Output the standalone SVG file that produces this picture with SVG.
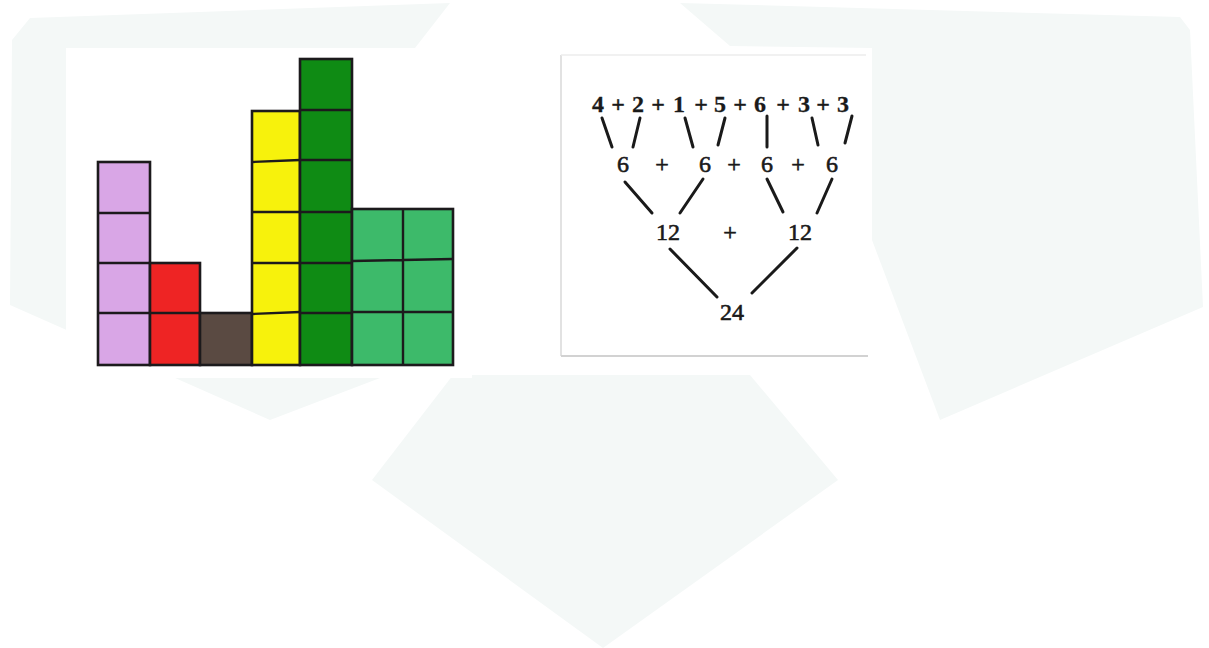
<svg xmlns="http://www.w3.org/2000/svg" width="1209" height="648" viewBox="0 0 1209 648">
  <style>
    .bg { fill: #f4f8f7; }
    .cell { stroke: #1c1a1c; stroke-width: 2.6; }
    .grid { stroke: #1c1a1c; stroke-width: 2.4; fill: none; }
    .num { font-family: "Liberation Serif", "Times New Roman", serif; font-size: 24px; fill: #1a1a1a; stroke: #1a1a1a; stroke-width: 0.6; text-anchor: middle; }
    .top { font-weight: bold; stroke-width: 0.3; }
    .conn line { stroke: #1a1a1a; stroke-width: 3; stroke-linecap: round; }
  </style>
  <rect width="1209" height="648" fill="#ffffff"/>
  <!-- faint background watermark shapes -->
  <g id="watermark">
    <path class="bg" d="M30,18 L450,3 L415,48 L470,48 L470,378 L380,378 L270,420 L10,305 L12,40 Z"/>
    <path class="bg" d="M680,3 L1180,17 L1190,30 L1203,307 L940,420 L872,240 L872,48 L730,46 Z"/>
    <path class="bg" d="M453,375 L750,375 L838,480 L603,648 L372,480 Z"/>
  </g>
  <!-- left picture panel -->
  <g id="blocks-panel">
    <rect x="66" y="48" width="406" height="330" fill="#ffffff"/>
    <g id="col-purple">
      <rect class="cell" x="98" y="162" width="52" height="203" fill="#d9a6e6"/>
      <path class="grid" d="M98,213 H150 M98,263 H150 M98,313 H150"/>
    </g>
    <g id="col-red">
      <rect class="cell" x="150" y="263" width="50" height="102" fill="#ee2424"/>
      <path class="grid" d="M150,313 H200"/>
    </g>
    <g id="col-brown">
      <rect class="cell" x="200" y="313" width="52" height="52" fill="#5a4a42"/>
    </g>
    <g id="col-yellow">
      <rect class="cell" x="252" y="111" width="48" height="254" fill="#f7f20c"/>
      <path class="grid" d="M252,162 L300,160 M252,212 H300 M252,263 H300 M252,314 L300,312"/>
    </g>
    <g id="col-darkgreen">
      <rect class="cell" x="300" y="59" width="52" height="306" fill="#0f8b14"/>
      <path class="grid" d="M300,110 H352 M300,160 H352 M300,212 H352 M300,263 H352 M300,313 H352"/>
    </g>
    <g id="col-green">
      <rect class="cell" x="352" y="209" width="101" height="156" fill="#3dba6a"/>
      <path class="grid" d="M352,261 L453,259 M352,312 H453 M403,209 V365"/>
    </g>
  </g>
  <!-- right picture panel -->
  <g id="tree-panel">
    <rect x="555" y="48" width="317" height="314" fill="#ffffff"/>
    <path d="M561,55 V356" stroke="#e2e2e2" stroke-width="2" fill="none"/>
    <path d="M561,55 H866" stroke="#ececec" stroke-width="1.5" fill="none"/>
    <path d="M561,356 H868" stroke="#d2d2d2" stroke-width="2" fill="none"/>
  </g>
  <g id="connectors" class="conn">
    <line x1="602" y1="118" x2="612" y2="147"/>
    <line x1="640" y1="118" x2="633" y2="147"/>
    <line x1="685" y1="118" x2="693" y2="147"/>
    <line x1="725" y1="118" x2="718" y2="145"/>
    <line x1="767" y1="116" x2="767" y2="147"/>
    <line x1="812" y1="118" x2="818" y2="145"/>
    <line x1="852" y1="116" x2="845" y2="143"/>
    <line x1="625" y1="182" x2="652" y2="213"/>
    <line x1="703" y1="179" x2="680" y2="213"/>
    <line x1="767" y1="179" x2="783" y2="212"/>
    <line x1="832" y1="179" x2="817" y2="213"/>
    <line x1="670" y1="249" x2="717" y2="297"/>
    <line x1="797" y1="248" x2="752" y2="293"/>
  </g>
  <g id="row1" class="num top">
    <text x="598" y="112">4</text>
    <text x="618" y="112">+</text>
    <text x="638" y="112">2</text>
    <text x="658" y="112">+</text>
    <text x="679" y="112">1</text>
    <text x="701" y="112">+</text>
    <text x="720" y="112">5</text>
    <text x="740" y="112">+</text>
    <text x="760" y="112">6</text>
    <text x="783" y="112">+</text>
    <text x="804" y="112">3</text>
    <text x="823" y="112">+</text>
    <text x="843" y="112">3</text>
  </g>
  <g id="row2" class="num">
    <g id="n2a"><text x="623" y="172">6</text></g>
    <text x="662" y="172">+</text>
    <g id="n2b"><text x="705" y="172">6</text></g>
    <text x="734" y="172">+</text>
    <g id="n2c"><text x="767" y="172">6</text></g>
    <text x="798" y="172">+</text>
    <g id="n2d"><text x="832" y="172">6</text></g>
  </g>
  <g id="row3" class="num">
    <g id="n3a"><text x="668" y="240">12</text></g>
    <text x="730" y="240">+</text>
    <g id="n3b"><text x="800" y="240">12</text></g>
  </g>
  <g id="row4" class="num">
    <g id="n4"><text x="732" y="320">24</text></g>
  </g>
</svg>
